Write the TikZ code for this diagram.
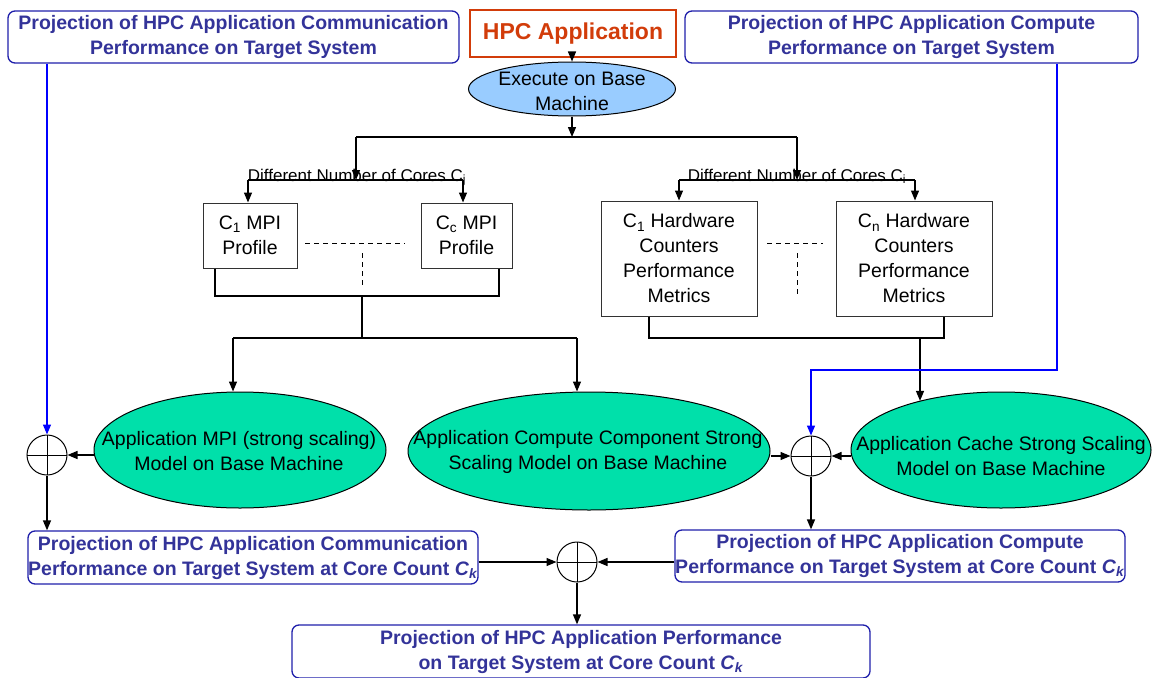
\documentclass[tikz,border=0pt]{standalone}
\usepackage{fontspec}
\setmainfont{Liberation Sans}
\usetikzlibrary{shapes.geometric,arrows.meta,calc}

\definecolor{projtext}{RGB}{51,51,153}
\definecolor{projedge}{RGB}{30,30,170}
\definecolor{apptext}{RGB}{210,60,10}
\definecolor{modelgreen}{RGB}{0,224,170}
\definecolor{basefill}{RGB}{153,204,255}
\definecolor{feedblue}{RGB}{0,0,255}
\definecolor{boxedge}{RGB}{50,50,50}

\begin{document}
\begin{tikzpicture}[x=1pt,y=-1pt,
  proj/.style={draw=projedge, line width=1.3pt, rounded corners=7pt, text=projtext,
    font=\bfseries\fontsize{19.5}{25}\selectfont, align=center, inner sep=0pt},
  app/.style={draw=apptext, line width=2.4pt, text=apptext,
    font=\bfseries\fontsize{23}{27}\selectfont, inner sep=0pt},
  plain/.style={font=\fontsize{19.5}{25}\selectfont, align=center, inner sep=0pt},
  probox/.style={draw=boxedge, line width=1pt, plain},
  corelabel/.style={font=\fontsize{17}{19}\selectfont, inner sep=0pt},
  basecloud/.style={ellipse, draw=black, line width=1pt, fill=basefill, inner sep=0pt},
  model/.style={ellipse, draw=black, line width=1pt, fill=modelgreen, inner sep=0pt},
  sumnode/.style={circle, draw=black, line width=1pt, minimum size=40pt, inner sep=0pt,
    path picture={\draw[line width=0.8pt]
      (path picture bounding box.north) -- (path picture bounding box.south)
      (path picture bounding box.west) -- (path picture bounding box.east);}},
  conn/.style={draw=black, line width=1.3pt},
  arr/.style={conn, -{Triangle[length=10pt,width=8pt]}},
  feed/.style={draw=feedblue, line width=1.3pt, -{Triangle[length=10pt,width=8pt]}},
  dashline/.style={draw=black, line width=1pt, dash pattern=on 5pt off 4pt}]

\useasboundingbox (0,0) rectangle (1153,677);

% ---- top row ----
\node[proj, minimum width=451pt, minimum height=52pt] (commtop) at (233.5,37)
  {Projection of HPC Application Communication\\Performance on Target System};
\node[proj, minimum width=453pt, minimum height=52pt] (comptop) at (911.5,37)
  {Projection of HPC Application Compute\\Performance on Target System};
\node[app, minimum width=206pt, minimum height=47pt] (hpc) at (573,33.5) {HPC Application};

\node[basecloud, minimum width=207pt, minimum height=54pt] (exec) at (572,89) {};
\node[plain] (exectext) at (572,91) {Execute on Base\\Machine};

% ---- profiles and counters ----
\node[probox, minimum width=94pt, minimum height=65pt] (mpione) at (250,235.5)
  {C\textsubscript{1} MPI\\Profile};
\node[probox, minimum width=91pt, minimum height=65pt] (mpic) at (466.5,235.5)
  {C\textsubscript{c} MPI\\Profile};
\node[probox, minimum width=156pt, minimum height=115pt] (hwone) at (679,258.5)
  {C\textsubscript{1} Hardware\\Counters\\Performance\\Metrics};
\node[probox, minimum width=156pt, minimum height=115pt] (hwn) at (914,258.5)
  {C\textsubscript{n} Hardware\\Counters\\Performance\\Metrics};

\node[corelabel, anchor=base] (corej) at (357,181) {Different Number of Cores C\textsubscript{j}};
\node[corelabel, anchor=base] (corei) at (797,181) {Different Number of Cores C\textsubscript{i}};

% ---- models ----
\node[model, minimum width=292pt, minimum height=116pt] (mpi) at (240,450) {};
\node[plain] (mpitext) at (239,451.5) {Application MPI (strong scaling)\\Model on Base Machine};
\node[model, minimum width=362pt, minimum height=118pt] (comp) at (589,451) {};
\node[plain] (comptext) at (588,451.5) {Application Compute Component Strong\\Scaling Model on Base Machine};
\node[model, minimum width=300pt, minimum height=116pt] (cache) at (1001,450) {};
\node[plain] (cachetext) at (1001,456) {Application Cache Strong Scaling\\Model on Base Machine};

% ---- summing junctions ----
\node[sumnode] (lsum) at (47,455) {};
\node[sumnode] (msum) at (811,456) {};
\node[sumnode] (bsum) at (577,562) {};

% ---- projections at core count ----
\node[proj, minimum width=450pt, minimum height=53pt] (commbot) at (253,557.5)
  {Projection of HPC Application Communication\\Performance on Target System at Core Count \textit{C}\textsubscript{\textit{k}}};
\node[proj, minimum width=450pt, minimum height=52pt] (compbot) at (900,556)
  {Projection of HPC Application Compute\\Performance on Target System at Core Count \textit{C}\textsubscript{\textit{k}}};
\node[proj, minimum width=578pt, minimum height=53pt] (final) at (581,651.5)
  {Projection of HPC Application Performance\\on Target System at Core Count \textit{C}\textsubscript{\textit{k}}};

% ---- branch points ----
\coordinate (split) at (572,137);
\coordinate (splitl) at (356,137);
\coordinate (splitr) at (797,137);
\coordinate (mpil) at (248,180);
\coordinate (mpir) at (463,180);
\coordinate (hwl) at (679,180);
\coordinate (hwr) at (915,180);
\coordinate (mpijoin) at (362,296);
\coordinate (mpisplit) at (362,338);
\coordinate (mpibarl) at (233,338);
\coordinate (mpibarr) at (577,338);
\coordinate (hwjoin) at (920,338);
\coordinate (hwbar) at (944,338);
\coordinate (bend) at (1057,370);

% ---- connectors ----
\draw[arr] (hpc.south -| exec.north) -- (exec.north);
\draw[arr] (exec.south) -- (split);
\draw[conn] (splitl) -- (splitr);
\draw[arr] (splitl) -- (splitl |- mpil);
\draw[arr] (splitr) -- (splitr |- hwl);

\draw[conn] (mpil) -- (mpir);
\draw[arr] (mpil) -- (mpil |- mpione.north);
\draw[arr] (mpir) -- (mpir |- mpic.north);
\draw[conn] (hwl) -- (hwr);
\draw[arr] (hwl) -- (hwl |- hwone.north);
\draw[arr] (hwr) -- (hwr |- hwn.north);

\draw[dashline] (305,243) -- (405,243);
\draw[dashline] (362,253) -- (362,287);
\draw[dashline] (767,243) -- (823,243);
\draw[dashline] (797,253) -- (797,295);

\draw[conn] (mpione.south -| 215,0) |- (mpijoin);
\draw[conn] (mpic.south -| 499,0) |- (mpijoin);
\draw[conn] (mpijoin) -- (mpisplit);
\draw[conn] (mpibarl) -- (mpibarr);
\draw[arr] (mpibarl) -- (mpibarl |- mpi.north);
\draw[arr] (mpibarr) -- (mpibarr |- comp.north);

\draw[conn] (hwone.south -| 649,0) |- (hwbar) -- (hwn.south -| hwbar);
\draw[arr] (hwjoin) -- (hwjoin |- cache.149);

\draw[arr] (mpi.west |- lsum) -- (lsum.east);
\draw[arr] (comp.east |- msum) -- (msum.west);
\draw[arr] (cache.west |- msum) -- (msum.east);

\draw[feed] (commtop.south -| lsum) -- (lsum.north);
\draw[feed] (comptop.south -| bend) -- (bend) -| (msum.north);

\draw[arr] (lsum.south) -- (lsum.south |- commbot.north);
\draw[arr] (msum.south) -- (msum.south |- compbot.north);
\draw[arr] (commbot.east |- bsum) -- (bsum.west);
\draw[arr] (compbot.west |- bsum) -- (bsum.east);
\draw[arr] (bsum.south) -- (bsum.south |- final.north);

\end{tikzpicture}
\end{document}
